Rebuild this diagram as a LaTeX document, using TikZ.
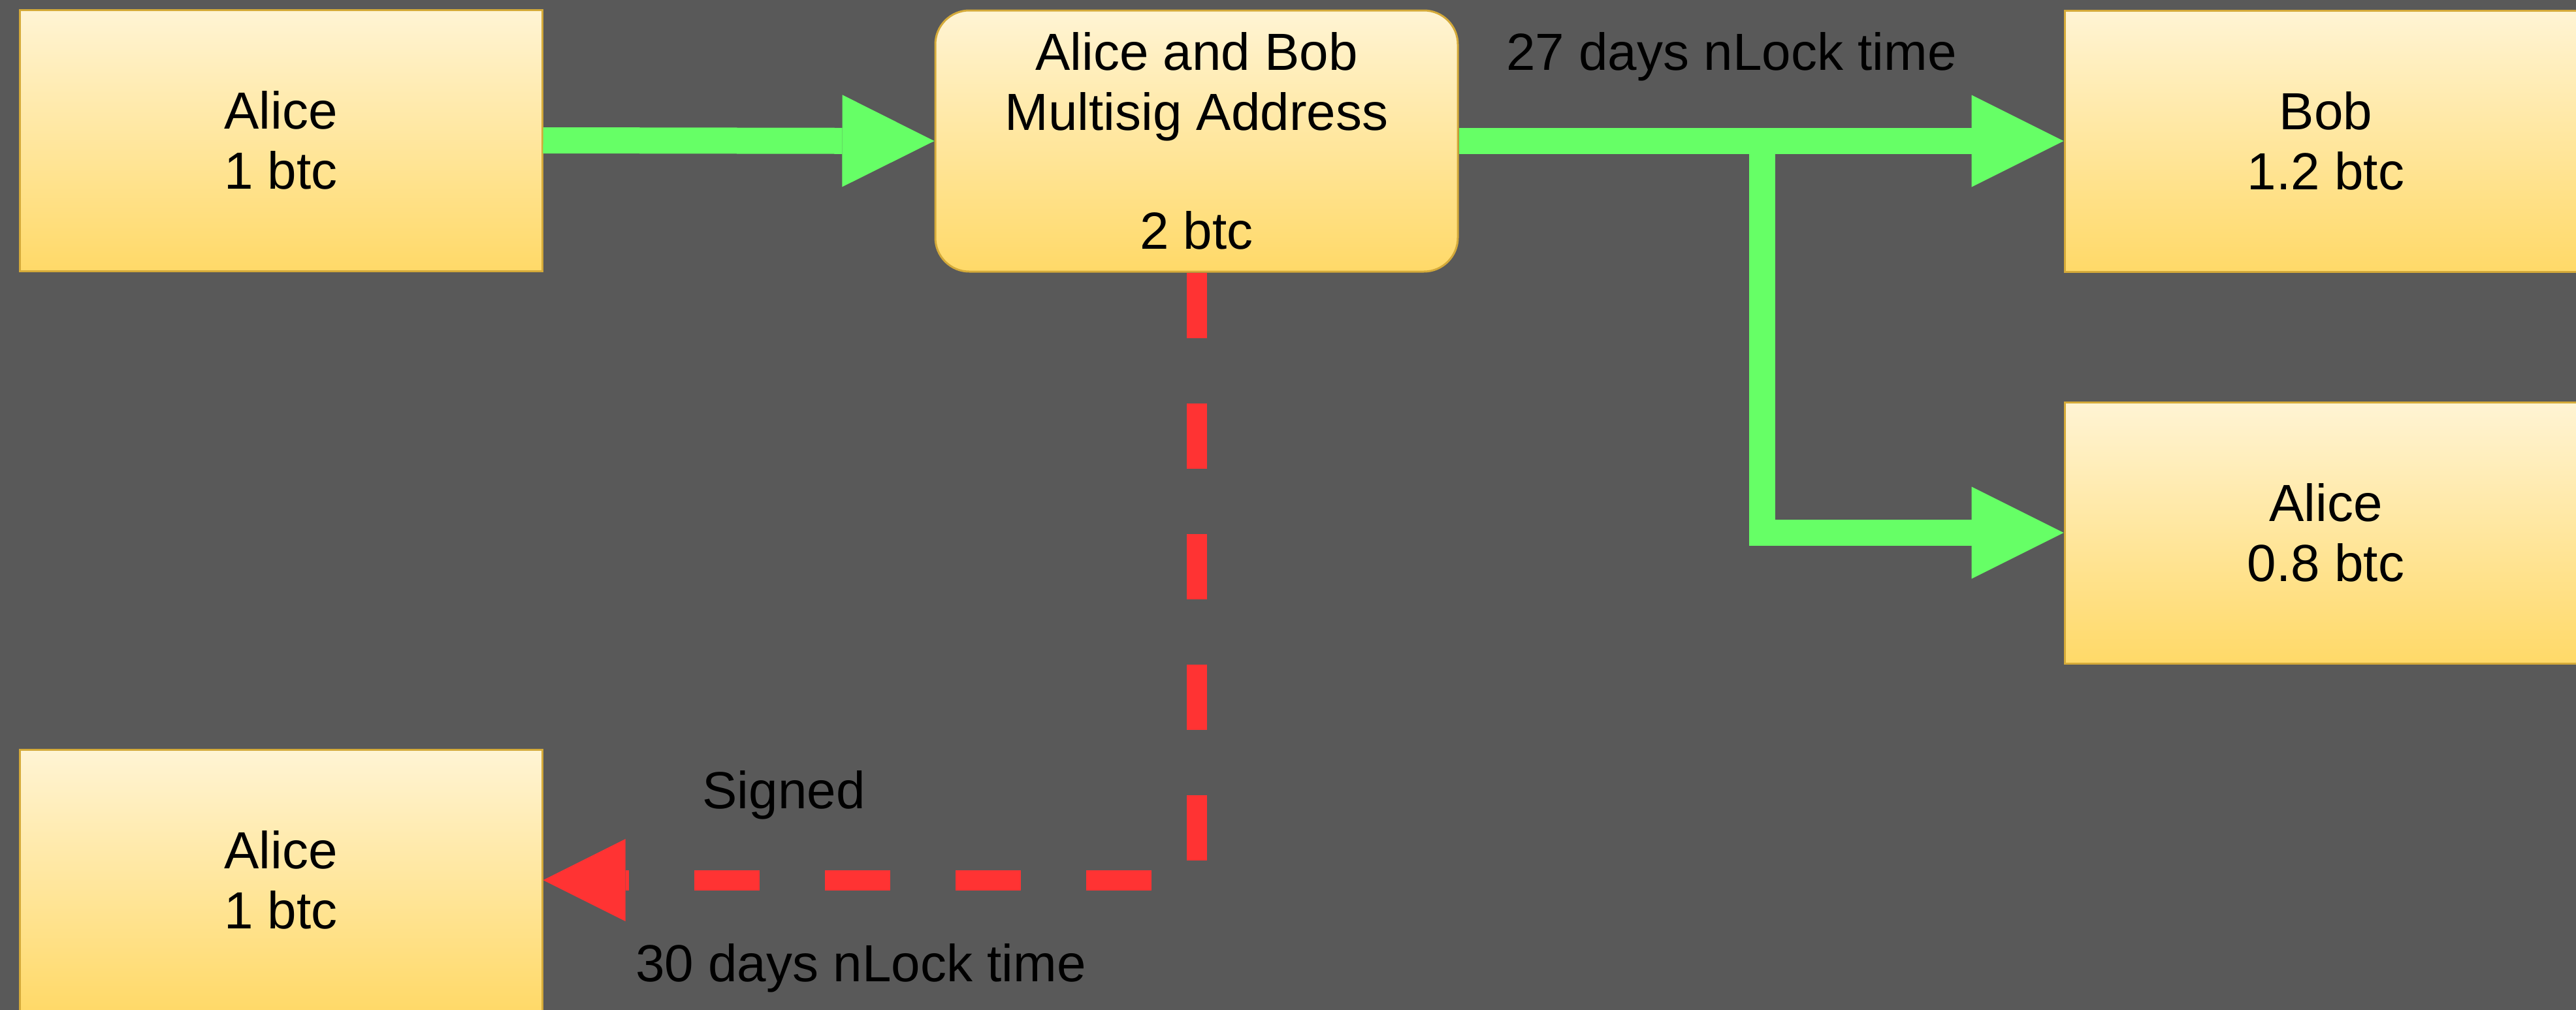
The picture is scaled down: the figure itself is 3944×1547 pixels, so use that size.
\documentclass[tikz,border=0pt]{standalone}
\usepackage{fontspec}
\setmainfont{Liberation Sans}
\usetikzlibrary{arrows.meta}

\definecolor{bg}{RGB}{89,89,89}
\definecolor{boxtop}{RGB}{255,244,212}
\definecolor{boxbot}{RGB}{255,217,104}
\definecolor{boxline}{RGB}{212,170,58}
\definecolor{flowgreen}{RGB}{102,255,102}
\definecolor{flowred}{RGB}{255,51,51}

\begin{document}
\begin{tikzpicture}[x=1pt,y=-1pt,
  acct/.style={rectangle, draw=boxline, line width=3pt,
    top color=boxtop, bottom color=boxbot,
    minimum width=800pt, minimum height=400pt, inner sep=0pt,
    align=center, font=\fontsize{80}{92}\selectfont},
  multisig/.style={acct, rounded corners=52pt},
  lbl/.style={anchor=base, inner sep=0pt, font=\fontsize{80}{92}\selectfont},
  greenflow/.style={draw=flowgreen, line width=40pt,
    -{Triangle[length=141pt,width=141pt,line width=0pt]}},
  redflow/.style={draw=flowred, line width=31pt, dash pattern=on 100pt off 100pt,
    -{Triangle[length=126pt,width=126pt,line width=0pt]}}
]
  % canvas
  \useasboundingbox (0,0) rectangle (3944,1547);
  \fill[bg] (0,0) rectangle (3944,1547);
  \clip (0,0) rectangle (3944,1547);

  % accounts
  \node[acct] (a1) at (430,215) {Alice\\1 btc};
  \node[multisig] (ms) at (1832,216) {Alice and Bob\\Multisig Address\\[90pt]2 btc};
  \node[acct] (bob) at (3561,216) {Bob\\1.2 btc};
  \node[acct] (a08) at (3561,816) {Alice\\0.8 btc};
  \node[acct] (ab) at (430,1348) {Alice\\1 btc};

  % funding into the multisig address
  \draw[greenflow] (a1.east) -- (ms.west);

  % payout after 27 days
  \draw[greenflow] (ms.east) -- (bob.west);
  \coordinate (split) at (2698,216);
  \draw[greenflow] (split) |- (a08.west);

  % refund after 30 days
  \draw[redflow] (ms.south) |- (ab.east);

  % labels
  \node[lbl] (l27) at (2651,107) {27 days nLock time};
  \node[lbl] (lsig) at (1200,1238) {Signed};
  \node[lbl] (l30) at (1318,1503) {30 days nLock time};
\end{tikzpicture}
\end{document}
